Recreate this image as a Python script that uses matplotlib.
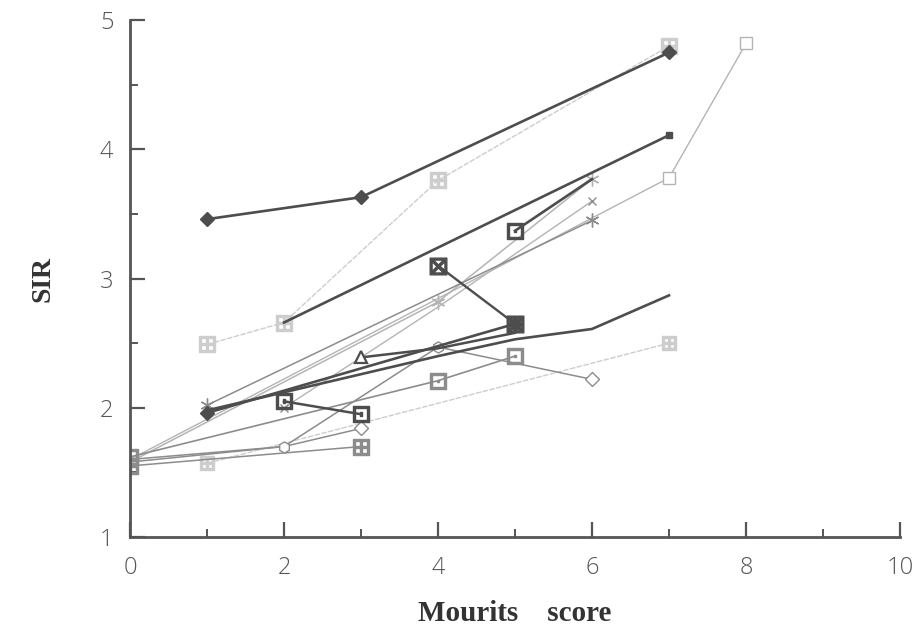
import matplotlib.pyplot as plt
from matplotlib.ticker import MultipleLocator

# Mourits score (x) vs SIR (y), one list pair per series
diam_hi_x = [1, 3, 7]
diam_hi_y = [3.46, 3.63, 4.75]

hatch_top_x = [1, 2, 4, 7]
hatch_top_y = [2.49, 2.66, 3.76, 4.80]

dark_sq_x = [2, 7]
dark_sq_y = [2.66, 4.11]

open_sq_x = [0, 7, 8]
open_sq_y = [1.60, 3.78, 4.82]

dot_sq_hi_x = [5, 6]
dot_sq_hi_y = [3.37, 3.77]

star_x = [0, 4, 6]
star_y = [1.58, 2.82, 3.77]

plus_x = [1, 6]
plus_y = [2.02, 3.45]

cross_x = [2, 4, 6]
cross_y = [2.00, 2.78, 3.60]

boxx_x = [4, 5]
boxx_y = [3.10, 2.65]

diam_lo_x = [1, 5]
diam_lo_y = [1.96, 2.65]

tri_x = [3, 4, 5]
tri_y = [2.39, 2.46, 2.58]

plain_x = [1, 4, 5, 6, 7]
plain_y = [1.98, 2.40, 2.53, 2.61, 2.87]

open_diam_x = [0, 2, 4, 6]
open_diam_y = [1.60, 1.70, 2.47, 2.22]

grey_sq_x = [0, 4, 5]
grey_sq_y = [1.62, 2.21, 2.40]

light_x = [1, 7]
light_y = [1.57, 2.50]

hex_x = [0, 2, 3]
hex_y = [1.58, 1.70, 1.84]

grid_x = [0, 3]
grid_y = [1.55, 1.70]

dot_sq_lo_x = [2, 3]
dot_sq_lo_y = [2.05, 1.95]

DARK = "#4d4d4d"
MID = "#8c8c8c"
LIGHT = "#b4b4b4"
PALE = "#cdcdcd"

fig = plt.figure(figsize=(9.17, 6.31), dpi=100)
ax = fig.add_axes([0.1418, 0.149, 0.8397, 0.819])

# light / thin series first
ax.plot(light_x, light_y, color=PALE, lw=1.0, ls=(0, (4, 1)),
        marker="$\\boxplus$", ms=10, mec=PALE)
ax.plot(hatch_top_x, hatch_top_y, color=PALE, lw=1.0, ls=(0, (4, 1)),
        marker="$\\boxplus$", ms=11, mec=PALE)
ax.plot(open_sq_x, open_sq_y, color=LIGHT, lw=1.0,
        marker="s", ms=9, mfc="white", mec=LIGHT, markevery=[1, 2])
ax.plot(star_x, star_y, color=LIGHT, lw=1.1,
        marker=(6, 2, 0), ms=10, mec=LIGHT, markevery=[1, 2])
ax.plot(cross_x, cross_y, color=LIGHT, lw=1.0,
        marker="x", ms=6, mec=MID, markevery=[0, 2])
ax.plot(plus_x, plus_y, color=MID, lw=1.1,
        marker=(6, 2, 0), ms=10, mec=MID)
ax.plot(hex_x, hex_y, color=MID, lw=1.1,
        marker="D", ms=7, mfc="white", mec=MID, markevery=[2])
ax.plot(grid_x, grid_y, color=MID, lw=1.1,
        marker="$\\boxplus$", ms=11, mec=MID)
ax.plot(open_diam_x, open_diam_y, color=MID, lw=1.1,
        marker="h", ms=8, mfc="white", mec=MID, markevery=[1, 2])
ax.plot(open_diam_x[-1:], open_diam_y[-1:], ls="none",
        marker="D", ms=7, mfc="white", mec=MID)
ax.plot(grey_sq_x, grey_sq_y, color=MID, lw=1.2,
        marker="$\\boxdot$", ms=11, mec=MID)

# dark / thick series
ax.plot(plain_x, plain_y, color=DARK, lw=1.9)
ax.plot(tri_x, tri_y, color=DARK, lw=1.8,
        marker="^", ms=8, mfc="white", mec=DARK, mew=1.6, markevery=[0])
ax.plot(diam_lo_x, diam_lo_y, color=DARK, lw=1.9,
        marker="D", ms=7, mfc=DARK, mec=DARK)
ax.plot(boxx_x, boxx_y, color=DARK, lw=1.7,
        marker="$\\boxtimes$", ms=12, mec=DARK)
ax.plot(dot_sq_lo_x, dot_sq_lo_y, color=DARK, lw=1.8,
        marker="$\\boxdot$", ms=12, mec=DARK)
ax.plot(dot_sq_hi_x, dot_sq_hi_y, color=DARK, lw=1.9,
        marker="$\\boxdot$", ms=11, mec=DARK, markevery=[0])
ax.plot(dark_sq_x, dark_sq_y, color=DARK, lw=1.9,
        marker="s", ms=5, mfc=DARK, mec=DARK, markevery=[1])
ax.plot(diam_hi_x, diam_hi_y, color=DARK, lw=1.9,
        marker="D", ms=7, mfc=DARK, mec=DARK)

ax.set_xlim(0, 10)
ax.set_ylim(1, 5)
ax.xaxis.set_major_locator(MultipleLocator(2))
ax.xaxis.set_minor_locator(MultipleLocator(1))
ax.yaxis.set_major_locator(MultipleLocator(1))
ax.yaxis.set_minor_locator(MultipleLocator(0.5))

for side in ["top", "right"]:
    ax.spines[side].set_visible(False)
for side in ["left", "bottom"]:
    ax.spines[side].set_color("#555555")
    ax.spines[side].set_linewidth(2)

ax.tick_params(which="major", direction="in", length=11, width=1.6,
               color="#555555", labelcolor="#555555", labelsize=17)
ax.tick_params(which="minor", direction="in", length=6, width=1.4,
               color="#555555")
ax.tick_params(axis="x", which="major", pad=14)
ax.tick_params(axis="y", which="major", pad=12)
for lab in ax.get_xticklabels() + ax.get_yticklabels():
    lab.set_fontfamily("Open Sans")
    lab.set_fontweight("light")

ax.set_xlabel("Mourits    score", fontsize=21, fontweight="bold",
              family="Liberation Serif", color="#333333", labelpad=14)
ax.set_ylabel("SIR", fontsize=20, fontweight="bold",
              family="Liberation Serif", color="#333333", labelpad=32)

fig.savefig("out.png", dpi=100)
